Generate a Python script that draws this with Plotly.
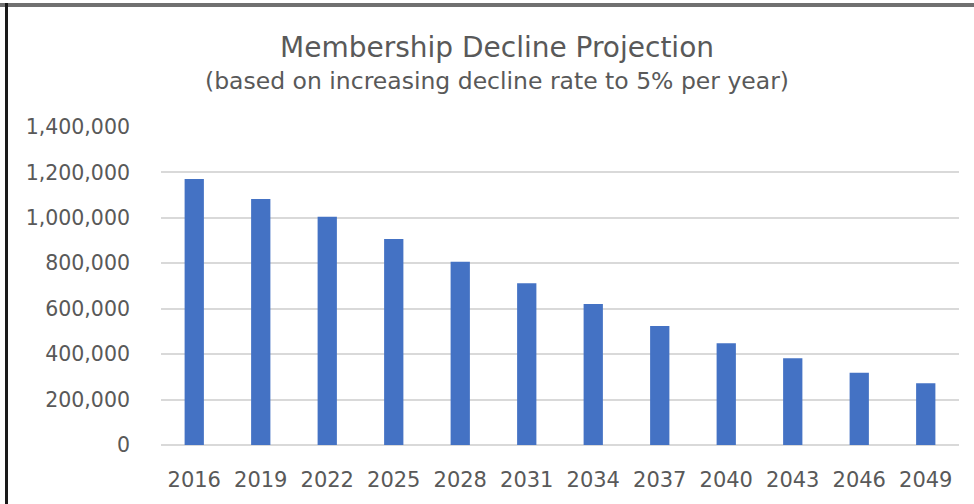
import plotly.graph_objects as go

years = ["2016", "2019", "2022", "2025", "2028", "2031", "2034", "2037", "2040", "2043", "2046", "2049"]
members = [1171000, 1083000, 1005000, 907000, 807000, 712000, 621000, 524000, 448000, 382000, 318000, 272000]
y_ticks = [0, 200000, 400000, 600000, 800000, 1000000, 1200000, 1400000]
y_tick_labels = ["0", "200,000", "400,000", "600,000", "800,000", "1,000,000", "1,200,000", "1,400,000"]

W, H = 974, 504
L, R, T, B = 161, 15, 127, 59
pw, ph = W - L - R, H - T - B

def px(x):
    return (x - L) / pw

def py(y):
    return (H - B - y) / ph

FONT = "DejaVu Sans, sans-serif"
GREY = "#595959"

fig = go.Figure(go.Bar(x=years, y=members, marker=dict(color="#4472C4", line=dict(width=0)), width=0.29))

fig.update_layout(
    width=W, height=H,
    margin=dict(l=L, r=R, t=T, b=B),
    paper_bgcolor="white", plot_bgcolor="white",
    showlegend=False,
    font=dict(family=FONT, color=GREY),
    annotations=[
        dict(text="Membership Decline Projection", xref="paper", yref="paper",
             x=px(497), y=py(47), xanchor="center", yanchor="middle", showarrow=False,
             font=dict(size=28, color=GREY)),
        dict(text="(based on increasing decline rate to 5% per year)", xref="paper", yref="paper",
             x=px(497), y=py(81), xanchor="center", yanchor="middle", showarrow=False,
             font=dict(size=23.5, color=GREY)),
    ],
    shapes=[
        dict(type="line", xref="paper", yref="paper", x0=px(0), x1=px(974), y0=py(5), y1=py(5),
             line=dict(color="#707070", width=4)),
        dict(type="line", xref="paper", yref="paper", x0=px(6.5), x1=px(6.5), y0=py(3), y1=py(504),
             line=dict(color="#1a1a1a", width=3)),
    ],
)
fig.update_xaxes(type="category", showgrid=False, zeroline=False, showline=False,
                 tickfont=dict(size=21, color=GREY), ticks="", ticklabelstandoff=20)
fig.update_yaxes(range=[0, 1400000], tickvals=y_ticks, ticktext=y_tick_labels,
                 showgrid=True, gridcolor="#d9d9d9", gridwidth=2, zeroline=True, zerolinecolor="#d9d9d9",
                 zerolinewidth=2, showline=False, ticks="",
                 tickfont=dict(size=20.5, color=GREY), ticklabelstandoff=30)
fig.write_html("out.html", config={"displayModeBar": False},
               post_script="document.body.style.margin='0';document.body.style.padding='0';")
